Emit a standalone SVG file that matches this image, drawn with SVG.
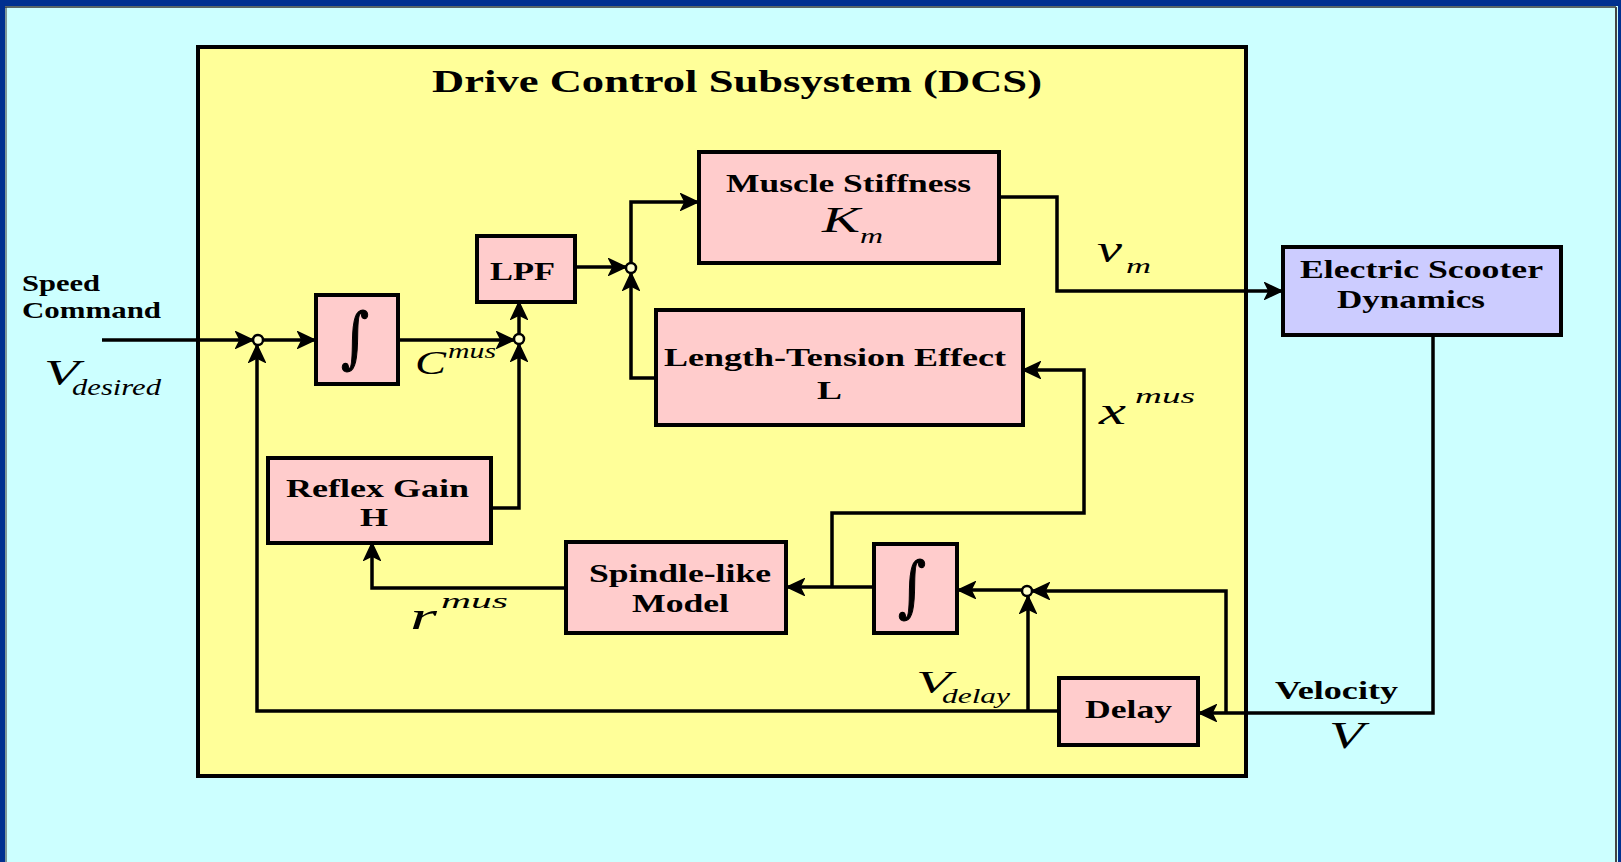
<svg xmlns="http://www.w3.org/2000/svg" width="1621" height="862" viewBox="0 0 1621 862">
<style>
.box{fill:#FFCCCC;stroke:#000;stroke-width:4}
.lbl{font-family:"Liberation Serif","Times New Roman",Times,serif;font-weight:bold;fill:#000}
.mi{font-family:"Liberation Serif","Times New Roman",Times,serif;font-style:italic;fill:#000}
.int{font-family:"DejaVu Serif","Liberation Serif",serif;fill:#000;stroke:#000;stroke-width:1.2}
.wire{fill:none;stroke:#000;stroke-width:3.5}
.jn{fill:#FFFFCC;stroke:#000;stroke-width:2.5}
</style>
<defs>
<marker id="arr" markerUnits="userSpaceOnUse" markerWidth="20" markerHeight="18" viewBox="-1 -1 20 18" refX="17" refY="8" orient="auto">
<path d="M0,0 L17,8 L0,16 L4,8 Z" fill="#000" stroke="#000" stroke-width="1.5" stroke-linejoin="miter"/>
</marker>
</defs>
<rect x="0" y="0" width="1621" height="862" fill="#CCFFFF"/>
<rect x="0" y="0" width="1621" height="6" fill="#003090"/>
<rect x="0" y="0" width="5" height="862" fill="#003090"/>
<rect x="1618" y="0" width="3" height="862" fill="#003090"/>
<line x1="5" y1="7" x2="1616" y2="7" stroke="#333" stroke-width="1.5"/>
<line x1="6" y1="7" x2="6" y2="862" stroke="#333" stroke-width="1"/>
<line x1="1616" y1="7" x2="1616" y2="862" stroke="#444" stroke-width="2"/>

<g id="dcs">
<rect x="198" y="47" width="1048" height="729" fill="#FFFF99" stroke="#000" stroke-width="4"/>
<text class="lbl" x="432" y="92" font-size="32" textLength="610" lengthAdjust="spacingAndGlyphs">Drive Control Subsystem (DCS)</text>
</g>

<g id="muscle">
<rect class="box" x="699" y="152" width="300" height="111"/>
<text class="lbl" x="726" y="192" font-size="25" textLength="245" lengthAdjust="spacingAndGlyphs">Muscle Stiffness</text>
<text class="mi" x="822" y="232" font-size="36" textLength="38" lengthAdjust="spacingAndGlyphs">K</text>
<text class="mi" x="860" y="243" font-size="22" textLength="23" lengthAdjust="spacingAndGlyphs">m</text>
</g>

<g id="lpf">
<rect class="box" x="477" y="236" width="98" height="66"/>
<text class="lbl" x="490" y="280" font-size="25" textLength="65" lengthAdjust="spacingAndGlyphs">LPF</text>
</g>

<g id="int1">
<rect class="box" x="316" y="295" width="82" height="89"/>
<text class="int" x="341" y="360" font-size="66" textLength="28" lengthAdjust="spacingAndGlyphs">∫</text>
</g>

<g id="lengthtension">
<rect class="box" x="656" y="310" width="367" height="115"/>
<text class="lbl" x="664" y="366" font-size="25" textLength="342" lengthAdjust="spacingAndGlyphs">Length-Tension Effect</text>
<text class="lbl" x="817" y="399" font-size="25" textLength="25" lengthAdjust="spacingAndGlyphs">L</text>
</g>

<g id="reflex">
<rect class="box" x="268" y="458" width="223" height="85"/>
<text class="lbl" x="286" y="497" font-size="25" textLength="183" lengthAdjust="spacingAndGlyphs">Reflex Gain</text>
<text class="lbl" x="360" y="526" font-size="25" textLength="28" lengthAdjust="spacingAndGlyphs">H</text>
</g>

<g id="spindle">
<rect class="box" x="566" y="542" width="220" height="91"/>
<text class="lbl" x="589" y="582" font-size="25" textLength="182" lengthAdjust="spacingAndGlyphs">Spindle-like</text>
<text class="lbl" x="632" y="612" font-size="25" textLength="97" lengthAdjust="spacingAndGlyphs">Model</text>
</g>

<g id="int2">
<rect class="box" x="874" y="544" width="83" height="89"/>
<text class="int" x="898" y="609" font-size="66" textLength="28" lengthAdjust="spacingAndGlyphs">∫</text>
</g>

<g id="delay">
<rect class="box" x="1059" y="678" width="139" height="67"/>
<text class="lbl" x="1085" y="718" font-size="25" textLength="87" lengthAdjust="spacingAndGlyphs">Delay</text>
</g>

<g id="scooter">
<rect x="1283" y="247" width="278" height="88" fill="#CCCCFF" stroke="#000" stroke-width="4"/>
<text class="lbl" x="1300" y="278" font-size="25" textLength="243" lengthAdjust="spacingAndGlyphs">Electric Scooter</text>
<text class="lbl" x="1337" y="308" font-size="25" textLength="148" lengthAdjust="spacingAndGlyphs">Dynamics</text>
</g>

<g id="connectors">
<path class="wire" d="M102,340 H253" marker-end="url(#arr)"/>
<path class="wire" d="M263,340 H315" marker-end="url(#arr)"/>
<path class="wire" d="M398,340 H514" marker-end="url(#arr)"/>
<path class="wire" d="M1059,711 H257 V345" marker-end="url(#arr)"/>
<path class="wire" d="M491,508 H519 V344" marker-end="url(#arr)"/>
<path class="wire" d="M519,334 V302" marker-end="url(#arr)"/>
<path class="wire" d="M575,267 H626" marker-end="url(#arr)"/>
<path class="wire" d="M656,378 H631 V273" marker-end="url(#arr)"/>
<path class="wire" d="M631,263 V202 H698" marker-end="url(#arr)"/>
<path class="wire" d="M999,197 H1057 V291 H1282" marker-end="url(#arr)"/>
<path class="wire" d="M1433,335 V713 H1199" marker-end="url(#arr)"/>
<path class="wire" d="M1226,713 V591 H1032" marker-end="url(#arr)"/>
<path class="wire" d="M1028,711 V596" marker-end="url(#arr)"/>
<path class="wire" d="M1022,590 H958" marker-end="url(#arr)" stroke-width="4.5"/>
<path class="wire" d="M874,587 H787" marker-end="url(#arr)"/>
<path class="wire" d="M832,587 V513 H1084 V370 H1023" marker-end="url(#arr)"/>
<path class="wire" d="M566,588 H372 V543" marker-end="url(#arr)"/>
<circle class="jn" cx="258" cy="340" r="5"/>
<circle class="jn" cx="519" cy="339" r="5"/>
<circle class="jn" cx="631" cy="268" r="5"/>
<circle class="jn" cx="1027" cy="591" r="5"/>
</g>

<g id="labels">
<text class="lbl" x="22" y="291" font-size="24" textLength="78" lengthAdjust="spacingAndGlyphs">Speed</text>
<text class="lbl" x="22" y="318" font-size="24" textLength="139" lengthAdjust="spacingAndGlyphs">Command</text>
<text class="mi" x="44" y="385" font-size="35" textLength="35" lengthAdjust="spacingAndGlyphs">V</text>
<text class="mi" x="72" y="395" font-size="24" textLength="89" lengthAdjust="spacingAndGlyphs">desired</text>
<text class="mi" x="415" y="374" font-size="33" textLength="31" lengthAdjust="spacingAndGlyphs">C</text>
<text class="mi" x="448" y="358" font-size="22" textLength="48" lengthAdjust="spacingAndGlyphs">mus</text>
<text class="mi" x="1097" y="262" font-size="37" textLength="25" lengthAdjust="spacingAndGlyphs">v</text>
<text class="mi" x="1126" y="273" font-size="22" textLength="25" lengthAdjust="spacingAndGlyphs">m</text>
<text class="mi" x="1099" y="424" font-size="37" textLength="27" lengthAdjust="spacingAndGlyphs">x</text>
<text class="mi" x="1135" y="403" font-size="22" textLength="60" lengthAdjust="spacingAndGlyphs">mus</text>
<text class="mi" x="410" y="629" font-size="37" textLength="27" lengthAdjust="spacingAndGlyphs">r</text>
<text class="mi" x="441" y="608" font-size="22" textLength="67" lengthAdjust="spacingAndGlyphs">mus</text>
<text class="mi" x="916" y="693" font-size="32" textLength="35" lengthAdjust="spacingAndGlyphs">V</text>
<text class="mi" x="942" y="703" font-size="22" textLength="68" lengthAdjust="spacingAndGlyphs">delay</text>
<text class="lbl" x="1275" y="699" font-size="25" textLength="123" lengthAdjust="spacingAndGlyphs">Velocity</text>
<text class="mi" x="1329" y="748" font-size="37" textLength="35" lengthAdjust="spacingAndGlyphs">V</text>
</g>
</svg>
